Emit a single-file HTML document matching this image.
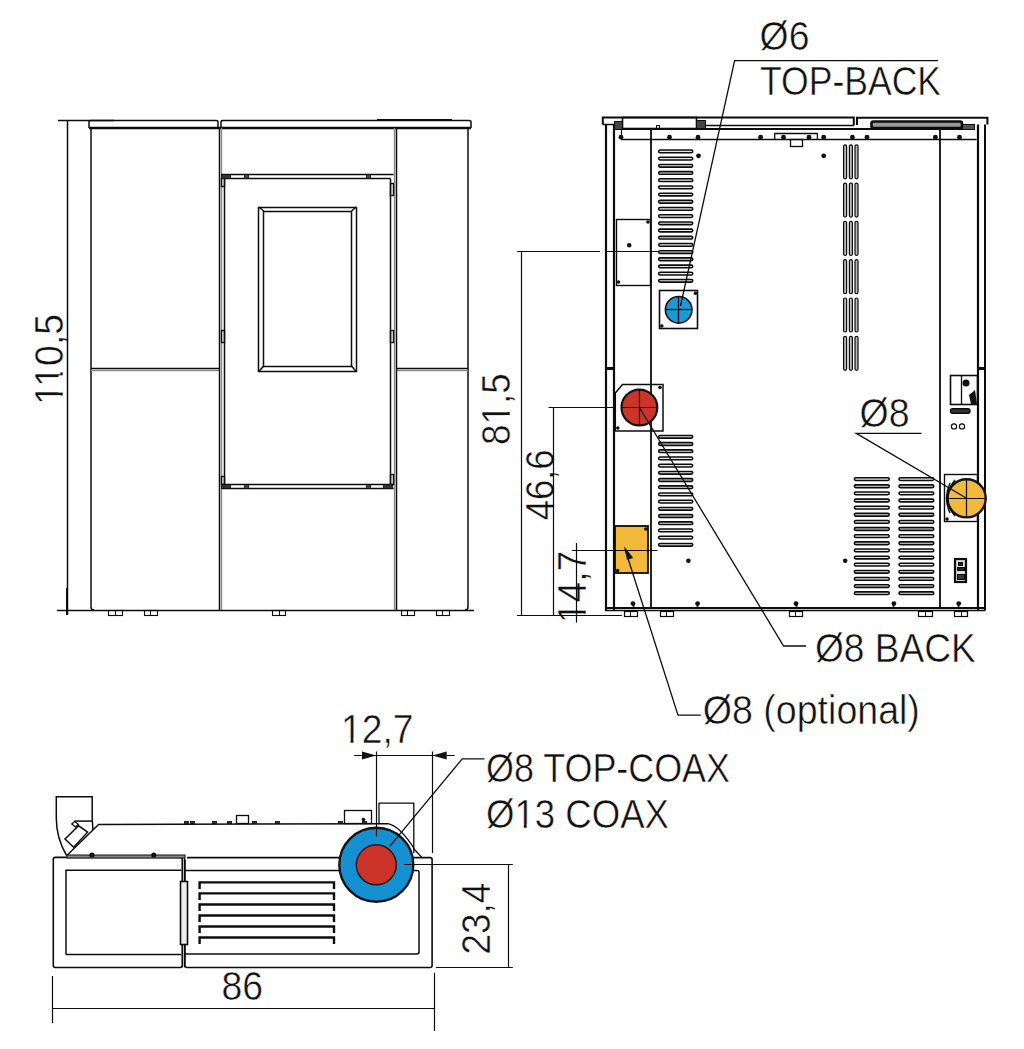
<!DOCTYPE html>
<html><head><meta charset="utf-8">
<style>
html,body{margin:0;padding:0;background:#fff;}
body{width:1024px;height:1049px;overflow:hidden;}
svg{display:block;}
text{font-family:"Liberation Sans",sans-serif;fill:#111;stroke:#fff;stroke-width:0.5px;}
</style></head><body>
<svg width="1024" height="1049" viewBox="0 0 1024 1049">
<g transform="translate(62.5,404.78) rotate(-90)"><text x="0" y="0" font-size="40.5" textLength="90.89" lengthAdjust="spacingAndGlyphs">110,5</text>
<rect x="0.46" y="-4.03" width="8.82" height="5.23" fill="#fff"/>
<rect x="12.19" y="-4.03" width="8.14" height="5.23" fill="#fff"/>
<rect x="20.66" y="-4.03" width="8.82" height="5.23" fill="#fff"/>
<rect x="32.39" y="-4.03" width="8.14" height="5.23" fill="#fff"/>
</g>
<g transform="translate(509.6,445.05) rotate(-90)"><text x="0" y="0" font-size="40.5" textLength="71.9" lengthAdjust="spacingAndGlyphs">81,5</text>
<rect x="21.05" y="-4.03" width="8.93" height="5.23" fill="#fff"/>
<rect x="32.95" y="-4.03" width="8.25" height="5.23" fill="#fff"/>
</g>
<g transform="translate(553.6,520.33) rotate(-90)"><text x="0" y="0" font-size="40.5" textLength="70.89" lengthAdjust="spacingAndGlyphs">46,6</text>
</g>
<g transform="translate(586.2,623.1) rotate(-90)"><text x="0" y="0" font-size="40.5" textLength="72.2" lengthAdjust="spacingAndGlyphs">14,7</text>
<rect x="0.52" y="-4.03" width="8.96" height="5.23" fill="#fff"/>
<rect x="12.46" y="-4.03" width="8.27" height="5.23" fill="#fff"/>
</g>
<g transform="translate(490.2,954.62) rotate(-90)"><text x="0" y="0" font-size="40.5" textLength="72.0" lengthAdjust="spacingAndGlyphs">23,4</text>
</g>
<g transform="translate(759.6,49.8)"><text x="0" y="0" font-size="40.5" textLength="49.8" lengthAdjust="spacingAndGlyphs">&#216;6</text>
</g>
<g transform="translate(759.97,95.2)"><text x="0" y="0" font-size="40.5" textLength="181.05" lengthAdjust="spacingAndGlyphs">TOP-BACK</text>
</g>
<g transform="translate(859.51,427.3)"><text x="0" y="0" font-size="40.5" textLength="50.04" lengthAdjust="spacingAndGlyphs">&#216;8</text>
</g>
<g transform="translate(814.96,661.7)"><text x="0" y="0" font-size="40.5" textLength="160.68" lengthAdjust="spacingAndGlyphs">&#216;8 BACK</text>
</g>
<g transform="translate(702.85,724.2)"><text x="0" y="0" font-size="40.5" textLength="217.03" lengthAdjust="spacingAndGlyphs">&#216;8 (optional)</text>
</g>
<g transform="translate(341.0,742.6)"><text x="0" y="0" font-size="40.5" textLength="72.54" lengthAdjust="spacingAndGlyphs">12,7</text>
<rect x="0.53" y="-4.03" width="8.99" height="5.23" fill="#fff"/>
<rect x="12.52" y="-4.03" width="8.30" height="5.23" fill="#fff"/>
</g>
<g transform="translate(485.97,782.4)"><text x="0" y="0" font-size="40.5" textLength="244.05" lengthAdjust="spacingAndGlyphs">&#216;8 TOP-COAX</text>
</g>
<g transform="translate(485.95,828)"><text x="0" y="0" font-size="40.5" textLength="183.07" lengthAdjust="spacingAndGlyphs">&#216;13 COAX</text>
<rect x="28.95" y="-4.03" width="8.87" height="5.23" fill="#fff"/>
<rect x="40.76" y="-4.03" width="8.19" height="5.23" fill="#fff"/>
</g>
<g transform="translate(221.55,999.9)"><text x="0" y="0" font-size="40.5" textLength="41.57" lengthAdjust="spacingAndGlyphs">86</text>
</g>
<g fill="none" stroke="#0c0c0c" stroke-width="1.5" stroke-linecap="butt">

<line x1="58" y1="120.5" x2="114" y2="120.5"/>
<line x1="67.5" y1="120" x2="67.5" y2="615"/>
<line x1="67.0" y1="588" x2="67.0" y2="615" stroke-width="2"/>
<line x1="57" y1="610.5" x2="474" y2="610.5" stroke-width="1.6"/>
<path d="M89,128 L89,122 Q89,120.5 91,120.5 L216,120.5 Q218,120.5 218,122 L218,128"/>
<path d="M221,128 L221,122 Q221,120.5 223,120.5 L469,120.5 Q471,120.5 471,122 L471,128"/>
<line x1="89" y1="128.0" x2="471" y2="128.0" stroke-width="2.4"/>
<line x1="377" y1="120.0" x2="452" y2="120.0" stroke-width="2.2"/>
<path d="M91,129 L91,607 Q91,610 94,610"/>
<line x1="91" y1="368.5" x2="219" y2="368.5" stroke-width="1.5"/>
<line x1="91" y1="370.5" x2="219" y2="370.5" stroke-width="1.5" stroke="#8a8a8a"/>
<path d="M468,128 L468,607 Q468,610 465,610"/>
<line x1="396.5" y1="368.5" x2="468" y2="368.5" stroke-width="1.5"/>
<line x1="396.5" y1="370.5" x2="468" y2="370.5" stroke-width="1.5" stroke="#8a8a8a"/>
<line x1="219.5" y1="128" x2="219.5" y2="610" stroke-width="1.5"/>
<line x1="221.5" y1="128" x2="221.5" y2="610" stroke-width="1.4" stroke="#8a8a8a"/>
<line x1="394.5" y1="128" x2="394.5" y2="610" stroke-width="1.4" stroke="#8a8a8a"/>
<line x1="396.5" y1="128" x2="396.5" y2="610" stroke-width="1.5"/>
<line x1="221.6" y1="174.5" x2="393.6" y2="174.5"/>
<line x1="224.6" y1="178.5" x2="390.7" y2="178.5"/>
<line x1="224.5" y1="178.7" x2="224.5" y2="484.5"/>
<line x1="390.5" y1="178.7" x2="390.5" y2="484.5"/>
<line x1="221.6" y1="484.5" x2="393.6" y2="484.5"/>
<line x1="221.6" y1="488.5" x2="393.6" y2="488.5"/>
<rect x="221.5" y="178.5" width="3.0" height="8.0" stroke-width="1.4"/>
<rect x="221.5" y="330.5" width="3.0" height="12.0" stroke-width="1.4"/>
<rect x="221.5" y="476.5" width="3.0" height="8.0" stroke-width="1.4"/>
<rect x="390.5" y="183.5" width="3.0" height="12.0" stroke-width="1.4"/>
<rect x="390.5" y="330.5" width="3.0" height="12.0" stroke-width="1.4"/>
<rect x="390.5" y="474.5" width="3.0" height="10.0" stroke-width="1.4"/>
<rect x="221.5" y="174.5" width="9.0" height="4.0" stroke-width="0.8" fill="#333"/>
<rect x="383.5" y="484.5" width="9.0" height="4.0" stroke-width="0.8" fill="#333"/>
<rect x="221.5" y="484.5" width="9.0" height="4.0" stroke-width="0.8" fill="#333"/>
<rect x="244.5" y="174.5" width="4.0" height="4.0" stroke-width="0.8" fill="#444"/>
<rect x="244.5" y="484.5" width="4.0" height="4.0" stroke-width="0.8" fill="#444"/>
<rect x="366.5" y="174.5" width="4.0" height="4.0" stroke-width="0.8" fill="#444"/>
<rect x="366.5" y="484.5" width="4.0" height="4.0" stroke-width="0.8" fill="#444"/>
<rect x="258.5" y="207.5" width="98.0" height="164.0"/>
<rect x="263.5" y="211.5" width="88.0" height="155.0"/>
<line x1="258.8" y1="207" x2="263.7" y2="211"/>
<line x1="356.1" y1="207" x2="351.6" y2="211"/>
<line x1="258.8" y1="371.6" x2="263.7" y2="366"/>
<line x1="356.1" y1="371.6" x2="351.6" y2="366"/>
<rect x="108.5" y="610.5" width="14.0" height="5.0" stroke-width="1.1"/>
<line x1="115.5" y1="610" x2="115.5" y2="615" stroke-width="1"/>
<rect x="144.5" y="610.5" width="13.0" height="5.0" stroke-width="1.1"/>
<line x1="150.5" y1="610" x2="150.5" y2="615" stroke-width="1"/>
<rect x="272.5" y="610.5" width="13.0" height="5.0" stroke-width="1.1"/>
<line x1="279.5" y1="610" x2="279.5" y2="615" stroke-width="1"/>
<rect x="401.5" y="610.5" width="13.0" height="5.0" stroke-width="1.1"/>
<line x1="407.5" y1="610" x2="407.5" y2="615" stroke-width="1"/>
<rect x="436.5" y="610.5" width="13.0" height="5.0" stroke-width="1.1"/>
<line x1="442.5" y1="610" x2="442.5" y2="615" stroke-width="1"/>
<path d="M602.8,124.5 L602.8,117.5 L853.8,117.5 L853.8,125" stroke-width="2"/>
<path d="M857,125 L857,117.8 L987.4,117.8 L987.4,124.5" stroke-width="2"/>
<line x1="602.8" y1="124.5" x2="622.7" y2="124.5"/>
<rect x="622.5" y="117.5" width="74.0" height="11.0" stroke-width="1.6"/>
<line x1="696.5" y1="125.5" x2="854" y2="125.5" stroke-width="1.6"/>
<line x1="614" y1="129.0" x2="973.5" y2="129.0" stroke-width="2"/>
<line x1="621" y1="139.5" x2="976.6" y2="139.5" stroke-width="1.6"/>
<rect x="614.5" y="121.5" width="8.0" height="8.0" stroke-width="1.0" fill="#444"/>
<rect x="696.5" y="120.5" width="9.0" height="8.0" stroke-width="1.0" fill="#444"/>
<rect x="962.5" y="124.5" width="12.0" height="5.0" stroke-width="1.0" fill="#555"/>
<rect x="656.5" y="125.5" width="3.0" height="3.0" stroke-width="1.0"/>
<rect x="871.5" y="121.5" width="90.5" height="6.5" stroke-width="2.6" fill="#999" rx="2"/>
<line x1="606.0" y1="124.5" x2="606.0" y2="610.5" stroke-width="2.2"/>
<line x1="614.0" y1="124.5" x2="614.0" y2="610.5" stroke-width="2.2"/>
<line x1="605.6" y1="368.5" x2="614.2" y2="368.5" stroke-width="3"/>
<line x1="621.5" y1="129.2" x2="621.5" y2="139.5" stroke-width="1.2"/>
<line x1="978.0" y1="124.5" x2="978.0" y2="610.5" stroke-width="2.2"/>
<line x1="985.0" y1="124.5" x2="985.0" y2="610.5" stroke-width="2"/>
<line x1="977.8" y1="368.5" x2="985" y2="368.5" stroke-width="3"/>
<line x1="651.0" y1="129.2" x2="651.0" y2="608" stroke-width="1.8"/>
<line x1="940.0" y1="129.2" x2="940.0" y2="608" stroke-width="1.8"/>
<line x1="605" y1="608.0" x2="985" y2="608.0" stroke-width="2"/>
<line x1="605" y1="610.5" x2="985" y2="610.5" stroke-width="1.6"/>
<path d="M774.7,139.5 L774.7,133.5 L817.4,133.5 L817.4,139.5" stroke-width="1.3"/>
<rect x="790.5" y="139.5" width="12.0" height="7.0" stroke-width="1.3"/>
<circle cx="621" cy="137.2" r="2.4" fill="#111" stroke="none"/>
<circle cx="669.5" cy="137.2" r="2.4" fill="#111" stroke="none"/>
<circle cx="698" cy="137.2" r="2.4" fill="#111" stroke="none"/>
<circle cx="760.6" cy="137.2" r="2.4" fill="#111" stroke="none"/>
<circle cx="783.5" cy="137.2" r="2.4" fill="#111" stroke="none"/>
<circle cx="809" cy="137.2" r="2.4" fill="#111" stroke="none"/>
<circle cx="823.7" cy="137.2" r="2.4" fill="#111" stroke="none"/>
<circle cx="852.4" cy="137.2" r="2.4" fill="#111" stroke="none"/>
<circle cx="867" cy="137.2" r="2.4" fill="#111" stroke="none"/>
<circle cx="935.4" cy="137.2" r="2.4" fill="#111" stroke="none"/>
<circle cx="959.5" cy="137.2" r="2.4" fill="#111" stroke="none"/>
<circle cx="698.5" cy="155.8" r="2.4" fill="#111" stroke="none"/>
<circle cx="823.7" cy="155.8" r="2.4" fill="#111" stroke="none"/>
<circle cx="688.4" cy="560.8" r="2.3" fill="#111" stroke="none"/>
<circle cx="845.2" cy="560.8" r="2.3" fill="#111" stroke="none"/>
<circle cx="633" cy="603.6" r="2.4" fill="#111" stroke="none"/>
<line x1="633.5" y1="603.6" x2="633.5" y2="608" stroke-width="1.6"/>
<circle cx="697.6" cy="603.6" r="2.4" fill="#111" stroke="none"/>
<line x1="697.5" y1="603.6" x2="697.5" y2="608" stroke-width="1.6"/>
<circle cx="796" cy="603.6" r="2.4" fill="#111" stroke="none"/>
<line x1="796.5" y1="603.6" x2="796.5" y2="608" stroke-width="1.6"/>
<circle cx="893.9" cy="603.6" r="2.4" fill="#111" stroke="none"/>
<line x1="893.5" y1="603.6" x2="893.5" y2="608" stroke-width="1.6"/>
<circle cx="958.75" cy="603.6" r="2.4" fill="#111" stroke="none"/>
<line x1="958.5" y1="603.6" x2="958.5" y2="608" stroke-width="1.6"/>
<rect x="658.7" y="150.05" width="34.0" height="2.7" stroke-width="1.6" fill="#e6e6e6" rx="1.35"/>
<rect x="658.7" y="157.24" width="34.0" height="2.7" stroke-width="1.6" fill="#e6e6e6" rx="1.35"/>
<rect x="658.7" y="164.43" width="34.0" height="2.7" stroke-width="1.6" fill="#e6e6e6" rx="1.35"/>
<rect x="658.7" y="171.62" width="34.0" height="2.7" stroke-width="1.6" fill="#e6e6e6" rx="1.35"/>
<rect x="658.7" y="178.81" width="34.0" height="2.7" stroke-width="1.6" fill="#e6e6e6" rx="1.35"/>
<rect x="658.7" y="186.00000000000003" width="34.0" height="2.7" stroke-width="1.6" fill="#e6e6e6" rx="1.35"/>
<rect x="658.7" y="193.19000000000003" width="34.0" height="2.7" stroke-width="1.6" fill="#e6e6e6" rx="1.35"/>
<rect x="658.7" y="200.38000000000002" width="34.0" height="2.7" stroke-width="1.6" fill="#e6e6e6" rx="1.35"/>
<rect x="658.7" y="207.57000000000002" width="34.0" height="2.7" stroke-width="1.6" fill="#e6e6e6" rx="1.35"/>
<rect x="658.7" y="214.76000000000002" width="34.0" height="2.7" stroke-width="1.6" fill="#e6e6e6" rx="1.35"/>
<rect x="658.7" y="221.95000000000002" width="34.0" height="2.7" stroke-width="1.6" fill="#e6e6e6" rx="1.35"/>
<rect x="658.7" y="229.14000000000001" width="34.0" height="2.7" stroke-width="1.6" fill="#e6e6e6" rx="1.35"/>
<rect x="658.7" y="236.33" width="34.0" height="2.7" stroke-width="1.6" fill="#e6e6e6" rx="1.35"/>
<rect x="658.7" y="243.52" width="34.0" height="2.7" stroke-width="1.6" fill="#e6e6e6" rx="1.35"/>
<rect x="658.7" y="250.71" width="34.0" height="2.7" stroke-width="1.6" fill="#e6e6e6" rx="1.35"/>
<rect x="658.7" y="257.9" width="34.0" height="2.7" stroke-width="1.6" fill="#e6e6e6" rx="1.35"/>
<rect x="658.7" y="265.09" width="34.0" height="2.7" stroke-width="1.6" fill="#e6e6e6" rx="1.35"/>
<rect x="658.7" y="272.28" width="34.0" height="2.7" stroke-width="1.6" fill="#e6e6e6" rx="1.35"/>
<rect x="658.7" y="279.47" width="34.0" height="2.7" stroke-width="1.6" fill="#e6e6e6" rx="1.35"/>
<rect x="658.7" y="435.45" width="34.0" height="2.7" stroke-width="1.6" fill="#e6e6e6" rx="1.35"/>
<rect x="658.7" y="442.65" width="34.0" height="2.7" stroke-width="1.6" fill="#e6e6e6" rx="1.35"/>
<rect x="658.7" y="449.84999999999997" width="34.0" height="2.7" stroke-width="1.6" fill="#e6e6e6" rx="1.35"/>
<rect x="658.7" y="457.05" width="34.0" height="2.7" stroke-width="1.6" fill="#e6e6e6" rx="1.35"/>
<rect x="658.7" y="464.25" width="34.0" height="2.7" stroke-width="1.6" fill="#e6e6e6" rx="1.35"/>
<rect x="658.7" y="471.45" width="34.0" height="2.7" stroke-width="1.6" fill="#e6e6e6" rx="1.35"/>
<rect x="658.7" y="478.65" width="34.0" height="2.7" stroke-width="1.6" fill="#e6e6e6" rx="1.35"/>
<rect x="658.7" y="485.84999999999997" width="34.0" height="2.7" stroke-width="1.6" fill="#e6e6e6" rx="1.35"/>
<rect x="658.7" y="493.05" width="34.0" height="2.7" stroke-width="1.6" fill="#e6e6e6" rx="1.35"/>
<rect x="658.7" y="500.25" width="34.0" height="2.7" stroke-width="1.6" fill="#e6e6e6" rx="1.35"/>
<rect x="658.7" y="507.45" width="34.0" height="2.7" stroke-width="1.6" fill="#e6e6e6" rx="1.35"/>
<rect x="658.7" y="514.65" width="34.0" height="2.7" stroke-width="1.6" fill="#e6e6e6" rx="1.35"/>
<rect x="658.7" y="521.85" width="34.0" height="2.7" stroke-width="1.6" fill="#e6e6e6" rx="1.35"/>
<rect x="658.7" y="529.05" width="34.0" height="2.7" stroke-width="1.6" fill="#e6e6e6" rx="1.35"/>
<rect x="658.7" y="536.25" width="34.0" height="2.7" stroke-width="1.6" fill="#e6e6e6" rx="1.35"/>
<rect x="658.7" y="543.4499999999999" width="34.0" height="2.7" stroke-width="1.6" fill="#e6e6e6" rx="1.35"/>
<rect x="854.4" y="477.75" width="34.80000000000007" height="2.7" stroke-width="1.6" fill="#e6e6e6" rx="1.35"/>
<rect x="899" y="477.75" width="34.75" height="2.7" stroke-width="1.6" fill="#e6e6e6" rx="1.35"/>
<rect x="854.4" y="484.88" width="34.80000000000007" height="2.7" stroke-width="1.6" fill="#e6e6e6" rx="1.35"/>
<rect x="899" y="484.88" width="34.75" height="2.7" stroke-width="1.6" fill="#e6e6e6" rx="1.35"/>
<rect x="854.4" y="492.01" width="34.80000000000007" height="2.7" stroke-width="1.6" fill="#e6e6e6" rx="1.35"/>
<rect x="899" y="492.01" width="34.75" height="2.7" stroke-width="1.6" fill="#e6e6e6" rx="1.35"/>
<rect x="854.4" y="499.14" width="34.80000000000007" height="2.7" stroke-width="1.6" fill="#e6e6e6" rx="1.35"/>
<rect x="899" y="499.14" width="34.75" height="2.7" stroke-width="1.6" fill="#e6e6e6" rx="1.35"/>
<rect x="854.4" y="506.27" width="34.80000000000007" height="2.7" stroke-width="1.6" fill="#e6e6e6" rx="1.35"/>
<rect x="899" y="506.27" width="34.75" height="2.7" stroke-width="1.6" fill="#e6e6e6" rx="1.35"/>
<rect x="854.4" y="513.4" width="34.80000000000007" height="2.7" stroke-width="1.6" fill="#e6e6e6" rx="1.35"/>
<rect x="899" y="513.4" width="34.75" height="2.7" stroke-width="1.6" fill="#e6e6e6" rx="1.35"/>
<rect x="854.4" y="520.53" width="34.80000000000007" height="2.7" stroke-width="1.6" fill="#e6e6e6" rx="1.35"/>
<rect x="899" y="520.53" width="34.75" height="2.7" stroke-width="1.6" fill="#e6e6e6" rx="1.35"/>
<rect x="854.4" y="527.66" width="34.80000000000007" height="2.7" stroke-width="1.6" fill="#e6e6e6" rx="1.35"/>
<rect x="899" y="527.66" width="34.75" height="2.7" stroke-width="1.6" fill="#e6e6e6" rx="1.35"/>
<rect x="854.4" y="534.79" width="34.80000000000007" height="2.7" stroke-width="1.6" fill="#e6e6e6" rx="1.35"/>
<rect x="899" y="534.79" width="34.75" height="2.7" stroke-width="1.6" fill="#e6e6e6" rx="1.35"/>
<rect x="854.4" y="541.92" width="34.80000000000007" height="2.7" stroke-width="1.6" fill="#e6e6e6" rx="1.35"/>
<rect x="899" y="541.92" width="34.75" height="2.7" stroke-width="1.6" fill="#e6e6e6" rx="1.35"/>
<rect x="854.4" y="549.05" width="34.80000000000007" height="2.7" stroke-width="1.6" fill="#e6e6e6" rx="1.35"/>
<rect x="899" y="549.05" width="34.75" height="2.7" stroke-width="1.6" fill="#e6e6e6" rx="1.35"/>
<rect x="854.4" y="556.18" width="34.80000000000007" height="2.7" stroke-width="1.6" fill="#e6e6e6" rx="1.35"/>
<rect x="899" y="556.18" width="34.75" height="2.7" stroke-width="1.6" fill="#e6e6e6" rx="1.35"/>
<rect x="854.4" y="563.3100000000001" width="34.80000000000007" height="2.7" stroke-width="1.6" fill="#e6e6e6" rx="1.35"/>
<rect x="899" y="563.3100000000001" width="34.75" height="2.7" stroke-width="1.6" fill="#e6e6e6" rx="1.35"/>
<rect x="854.4" y="570.4399999999999" width="34.80000000000007" height="2.7" stroke-width="1.6" fill="#e6e6e6" rx="1.35"/>
<rect x="899" y="570.4399999999999" width="34.75" height="2.7" stroke-width="1.6" fill="#e6e6e6" rx="1.35"/>
<rect x="854.4" y="577.57" width="34.80000000000007" height="2.7" stroke-width="1.6" fill="#e6e6e6" rx="1.35"/>
<rect x="899" y="577.57" width="34.75" height="2.7" stroke-width="1.6" fill="#e6e6e6" rx="1.35"/>
<rect x="854.4" y="584.7" width="34.80000000000007" height="2.7" stroke-width="1.6" fill="#e6e6e6" rx="1.35"/>
<rect x="899" y="584.7" width="34.75" height="2.7" stroke-width="1.6" fill="#e6e6e6" rx="1.35"/>
<rect x="854.4" y="591.83" width="34.80000000000007" height="2.7" stroke-width="1.6" fill="#e6e6e6" rx="1.35"/>
<rect x="899" y="591.83" width="34.75" height="2.7" stroke-width="1.6" fill="#e6e6e6" rx="1.35"/>
<rect x="843.6" y="144.8" width="3.0" height="34" stroke-width="1.2" fill="#bbb" rx="1.5"/>
<rect x="849.4" y="144.8" width="3.0" height="34" stroke-width="1.2" fill="#bbb" rx="1.5"/>
<rect x="855.0" y="144.8" width="3.0" height="34" stroke-width="1.2" fill="#bbb" rx="1.5"/>
<rect x="843.6" y="183.10000000000002" width="3.0" height="34" stroke-width="1.2" fill="#bbb" rx="1.5"/>
<rect x="849.4" y="183.10000000000002" width="3.0" height="34" stroke-width="1.2" fill="#bbb" rx="1.5"/>
<rect x="855.0" y="183.10000000000002" width="3.0" height="34" stroke-width="1.2" fill="#bbb" rx="1.5"/>
<rect x="843.6" y="221.4" width="3.0" height="34" stroke-width="1.2" fill="#bbb" rx="1.5"/>
<rect x="849.4" y="221.4" width="3.0" height="34" stroke-width="1.2" fill="#bbb" rx="1.5"/>
<rect x="855.0" y="221.4" width="3.0" height="34" stroke-width="1.2" fill="#bbb" rx="1.5"/>
<rect x="843.6" y="259.7" width="3.0" height="34" stroke-width="1.2" fill="#bbb" rx="1.5"/>
<rect x="849.4" y="259.7" width="3.0" height="34" stroke-width="1.2" fill="#bbb" rx="1.5"/>
<rect x="855.0" y="259.7" width="3.0" height="34" stroke-width="1.2" fill="#bbb" rx="1.5"/>
<rect x="843.6" y="298.0" width="3.0" height="34" stroke-width="1.2" fill="#bbb" rx="1.5"/>
<rect x="849.4" y="298.0" width="3.0" height="34" stroke-width="1.2" fill="#bbb" rx="1.5"/>
<rect x="855.0" y="298.0" width="3.0" height="34" stroke-width="1.2" fill="#bbb" rx="1.5"/>
<rect x="843.6" y="336.3" width="3.0" height="34" stroke-width="1.2" fill="#bbb" rx="1.5"/>
<rect x="849.4" y="336.3" width="3.0" height="34" stroke-width="1.2" fill="#bbb" rx="1.5"/>
<rect x="855.0" y="336.3" width="3.0" height="34" stroke-width="1.2" fill="#bbb" rx="1.5"/>
<rect x="616.5" y="219.5" width="34.0" height="66.0" stroke-width="1.4"/>
<circle cx="629.2" cy="245.3" r="2.2" fill="#111" stroke="none"/>
<circle cx="648" cy="222" r="1.8" fill="#111" stroke="none"/>
<circle cx="618.5" cy="282" r="1.8" fill="#111" stroke="none"/>
<rect x="659.5" y="290.5" width="38.0" height="38.0" stroke-width="1.6"/>
<circle cx="695.5" cy="293.3" r="1.8" fill="#111" stroke="none"/>
<circle cx="661.8" cy="326" r="1.8" fill="#111" stroke="none"/>
<circle cx="678.7" cy="309.8" r="13.3" fill="#1b9ad6" stroke="#141414" stroke-width="1.6"/>
<line x1="665.4" y1="309.5" x2="692" y2="309.5" stroke-width="1.3"/>
<line x1="678.5" y1="296.5" x2="678.5" y2="323.1" stroke-width="1.3"/>
<path d="M622.5,384.6 L663,384.6 L663,430.9 L615.3,430.9 L615.3,393 Z" stroke-width="1.5"/>
<circle cx="660" cy="387.5" r="1.8" fill="#111" stroke="none"/>
<circle cx="617.8" cy="428" r="1.8" fill="#111" stroke="none"/>
<circle cx="639.4" cy="407.5" r="17.9" fill="#cc3329" stroke="#141414" stroke-width="2.2"/>
<line x1="621.5" y1="407.5" x2="657.3" y2="407.5" stroke-width="1.2"/>
<line x1="639.5" y1="389.6" x2="639.5" y2="425.4" stroke-width="1.2"/>
<rect x="615.0" y="526.0" width="33.0" height="47.0" stroke-width="1.8" fill="#f2b93b"/>
<circle cx="645.8" cy="529" r="1.8" fill="#111" stroke="none"/>
<circle cx="617.6" cy="570.6" r="1.8" fill="#111" stroke="none"/>
<rect x="944.5" y="474.5" width="33.0" height="47.0" stroke-width="1.4"/>
<circle cx="947" cy="519" r="1.8" fill="#111" stroke="none"/>
<circle cx="966.6" cy="498.3" r="19.1" fill="#f2b93b" stroke="#141414" stroke-width="2.4"/>
<path d="M955,480 Q940,498 955,516" stroke-width="1.6"/>
<path d="M950,483 Q943,498 950,513" stroke-width="1.4"/>
<line x1="947.5" y1="498.5" x2="985.7" y2="498.5" stroke-width="1.2"/>
<line x1="966.5" y1="479.2" x2="966.5" y2="517.4" stroke-width="1.2"/>
<rect x="950.5" y="375.5" width="27.0" height="29.0" stroke-width="1.6"/>
<line x1="961.5" y1="375.6" x2="961.5" y2="404" stroke-width="1.3"/>
<circle cx="966" cy="383" r="3.5" fill="#111" stroke="none"/>
<path d="M969,395 L975,390 L977,404 L971,404 Z" fill="#111" stroke="none"/>
<rect x="950.5" y="408.8" width="19.5" height="4.4" stroke-width="1.4" fill="#333" rx="2"/>
<circle cx="954" cy="426.4" r="2.6" stroke-width="1.2"/>
<circle cx="962" cy="426.4" r="2.6" stroke-width="1.2"/>
<rect x="955.0" y="559.0" width="11.0" height="23.0" stroke-width="2.2" fill="#ddd"/>
<rect x="958.5" y="562.5" width="4.0" height="3.0" stroke-width="1.0" fill="#222"/>
<rect x="957.5" y="567.5" width="7.0" height="3.0" stroke-width="1.0" fill="#222"/>
<rect x="957.5" y="574.5" width="7.0" height="5.0" stroke-width="1.0" fill="#333"/>
<rect x="624.5" y="611.5" width="13.0" height="5.0" stroke-width="1.2"/>
<line x1="630.5" y1="611" x2="630.5" y2="616" stroke-width="1"/>
<rect x="660.5" y="611.5" width="13.0" height="5.0" stroke-width="1.2"/>
<line x1="666.5" y1="611" x2="666.5" y2="616" stroke-width="1"/>
<rect x="789.5" y="611.5" width="13.0" height="5.0" stroke-width="1.2"/>
<line x1="795.5" y1="611" x2="795.5" y2="616" stroke-width="1"/>
<rect x="918.5" y="611.5" width="14.0" height="5.0" stroke-width="1.2"/>
<line x1="925.5" y1="611" x2="925.5" y2="616" stroke-width="1"/>
<rect x="954.5" y="611.5" width="13.0" height="5.0" stroke-width="1.2"/>
<line x1="961.5" y1="611" x2="961.5" y2="616" stroke-width="1"/>
<line x1="517" y1="251.5" x2="600" y2="251.5" stroke-width="1.2"/>
<line x1="606" y1="251.5" x2="658" y2="251.5" stroke-width="1.2"/>
<line x1="521.5" y1="251.75" x2="521.5" y2="615.8" stroke-width="1.2"/>
<line x1="517" y1="615.5" x2="621.8" y2="615.5" stroke-width="1.2"/>
<line x1="548.5" y1="407.5" x2="614" y2="407.5" stroke-width="1.2"/>
<line x1="553.5" y1="407.5" x2="553.5" y2="615.8" stroke-width="1.2"/>
<line x1="572" y1="550.5" x2="657.5" y2="550.5" stroke-width="1.2"/>
<line x1="576.5" y1="543" x2="576.5" y2="622.6" stroke-width="1.2"/>
<path d="M937.9,60.6 L734.6,60.6 L680.5,306" stroke-width="1.3"/>
<path d="M921.5,433.3 L856.3,433.3 L966.6,498.3" stroke-width="1.3"/>
<path d="M805.9,646 L783.6,646 L639.4,407.5" stroke-width="1.3"/>
<path d="M700.8,715.2 L678,715.2 L625,549" stroke-width="1.3"/>
<path d="M624.1,546.3 L633.3,558 L627,559.8 Z" fill="#141414" stroke="none"/>
<path d="M55.3,857.4 L180.3,857.4 Q182.3,857.4 182.3,859.4 L182.3,965.5 Q182.3,967.5 180.3,967.5 L55.3,967.5 Q53.3,967.5 53.3,965.5 L53.3,859.4 Q53.3,857.4 55.3,857.4 Z" stroke-width="1.6"/>
<path d="M66,954.4 L66,870.3 L181.3,870.3 M66,954.4 L181.3,954.4" stroke-width="1.5"/>
<path d="M187,857.6 L340,857.6 M413,857.6 L430.1,857.6 Q432.1,857.6 432.1,859.6 L432.1,965.5 Q432.1,967.5 430.1,967.5 L187,967.5 Q185,967.5 185,965.5 L185,859.6" stroke-width="1.6"/>
<path d="M185,870.4 L340,870.4 M413,870.4 L417,870.4 Q419,870.4 419,872.4 L419,952.1 Q419,954.1 417,954.1 L185,954.1" stroke-width="1.5"/>
<line x1="182.5" y1="857.5" x2="182.5" y2="967.3" stroke-width="1.2"/>
<line x1="184.5" y1="857.5" x2="184.5" y2="967.3" stroke-width="1.2"/>
<rect x="180.5" y="881.5" width="7.0" height="63.0" stroke-width="1.6" fill="#eee"/>
<path d="M199.6,888.9 L199.6,882.4 L334,882.4 L334,888.9" stroke-width="2.4"/>
<path d="M199.6,899.92 L199.6,893.42 L334,893.42 L334,899.92" stroke-width="2.4"/>
<path d="M199.6,910.9399999999999 L199.6,904.4399999999999 L334,904.4399999999999 L334,910.9399999999999" stroke-width="2.4"/>
<path d="M199.6,921.96 L199.6,915.46 L334,915.46 L334,921.96" stroke-width="2.4"/>
<path d="M199.6,932.98 L199.6,926.48 L334,926.48 L334,932.98" stroke-width="2.4"/>
<path d="M199.6,944.0 L199.6,937.5 L334,937.5 L334,944.0" stroke-width="2.4"/>
<path d="M66.6,855.8 L98.6,824.5 L388,823.7" stroke-width="1.4"/>
<path d="M66.5,855.3 Q56.3,838 56.3,818.6 L56.3,796.8 L92.2,796.8 L92.2,818.6 L92.9,829.7" stroke-width="1.5"/>
<path d="M74.3,821.1 L92.2,821.1" stroke-width="1.5"/>
<path d="M65,839 L78.6,825.8 L87.6,832.2 L73.6,847.2 Z" stroke-width="1.5"/>
<path d="M71.8,824 L74.7,821.5 L78.3,824.3 L75.75,827.2 Z" stroke-width="1.3"/>
<rect x="67" y="855" width="118" height="3" fill="#888" stroke="#111" stroke-width="1"/>
<circle cx="91.9" cy="855" r="2.6" fill="#111" stroke="none"/>
<circle cx="153.75" cy="855" r="2.6" fill="#111" stroke="none"/>
<rect x="236.5" y="815.5" width="12.0" height="8.0" stroke-width="1.3"/>
<rect x="344.5" y="810.5" width="27.0" height="13.0" stroke-width="1.3"/>
<path d="M379,823 L379,803.2 L413.8,803.2 L413.8,853" stroke-width="1.3"/>
<path d="M388,823.7 Q400,826 415,850 L422,857.6" stroke-width="1.3"/>
<rect x="184.5" y="821.5" width="4.0" height="2.0" stroke-width="0.8" fill="#333"/>
<rect x="190.5" y="821.5" width="4.0" height="2.0" stroke-width="0.8" fill="#333"/>
<rect x="212.5" y="821.5" width="4.0" height="2.0" stroke-width="0.8" fill="#333"/>
<rect x="227.5" y="821.5" width="4.0" height="2.0" stroke-width="0.8" fill="#333"/>
<rect x="252.5" y="821.5" width="4.0" height="2.0" stroke-width="0.8" fill="#333"/>
<rect x="275.5" y="821.5" width="4.0" height="2.0" stroke-width="0.8" fill="#333"/>
<rect x="338.5" y="821.5" width="4.0" height="2.0" stroke-width="0.8" fill="#333"/>
<rect x="362.5" y="821.5" width="4.0" height="2.0" stroke-width="0.8" fill="#333"/>
<circle cx="363.5" cy="819.5" r="1.8" fill="#111" stroke="none"/>
<circle cx="376.3" cy="864.8" r="37" fill="#1590d0" stroke="#141414" stroke-width="2.4"/>
<circle cx="376.3" cy="864.8" r="20" fill="#cc3329" stroke="#141414" stroke-width="1.4"/>
<line x1="353.8" y1="755.5" x2="454.6" y2="755.5" stroke-width="1.2"/>
<path d="M376.4,755.5 L362,751.5 L362,759.5 Z" fill="#141414" stroke="none"/>
<path d="M432.3,755.5 L446.7,751.5 L446.7,759.5 Z" fill="#141414" stroke="none"/>
<line x1="376.5" y1="751.5" x2="376.5" y2="836.3" stroke-width="1.2"/>
<line x1="432.5" y1="751.5" x2="432.5" y2="853" stroke-width="1.2"/>
<path d="M484.5,758.9 L462.2,758.9 L389.7,846.3" stroke-width="1.3"/>
<line x1="404" y1="864.5" x2="512.8" y2="864.5" stroke-width="1.2"/>
<line x1="436" y1="967.5" x2="512.8" y2="967.5" stroke-width="1.2"/>
<line x1="508.5" y1="864.7" x2="508.5" y2="967.5" stroke-width="1.2"/>
<line x1="52.6" y1="1008.5" x2="434.1" y2="1008.5" stroke-width="1.2"/>
<line x1="52.5" y1="976" x2="52.5" y2="1023.3" stroke-width="1.2"/>
<line x1="434.5" y1="972.7" x2="434.5" y2="1030.9" stroke-width="1.2"/>
</g>
</svg>
</body></html>
